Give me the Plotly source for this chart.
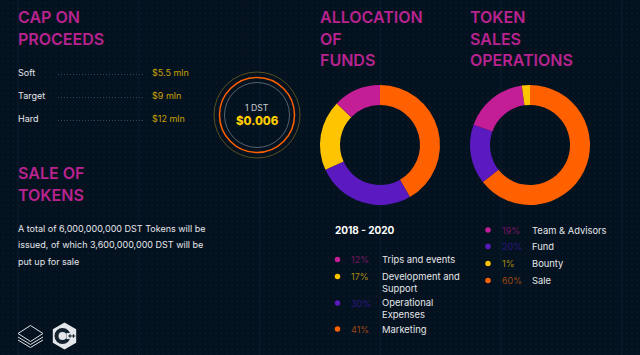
import numpy as np
import plotly.graph_objects as go

BG = "#04121f"
MAGENTA = "#c41e96"
PURPLE = "#5b19c0"
YELLOW = "#ffc400"
ORANGE = "#ff6000"
WHITE = "#e4e6ea"
HEAD = "#b8238f"
FONT = "Inter, Liberation Sans, sans-serif"

funds_labels = ["Marketing", "Operational Expenses", "Development and Support", "Trips and events"]
funds_values = [41.7, 26.5, 19.0, 12.8]
funds_colors = [ORANGE, PURPLE, YELLOW, MAGENTA]

sales_labels = ["Sale", "Fund", "Team & Advisors", "Bounty"]
sales_values = [64.4, 16.1, 17.3, 2.2]
sales_colors = [ORANGE, PURPLE, MAGENTA, YELLOW]

cap_names = ["Soft", "Target", "Hard"]
cap_amounts = ["$5.5 mln", "$9 mln", "$12 mln"]

funds_legend_pct = ["12%", "17%", "30%", "41%"]
funds_legend_txt = ["Trips and events", "Development and<br>Support", "Operational<br>Expenses", "Marketing"]
funds_legend_col = [MAGENTA, YELLOW, PURPLE, ORANGE]
funds_legend_dim = ["#751665", "#a98a12", "#2f1583", "#9c4712"]

sales_legend_pct = ["19%", "20%", "1%", "60%"]
sales_legend_txt = ["Team & Advisors", "Fund", "Bounty", "Sale"]
sales_legend_col = [MAGENTA, PURPLE, YELLOW, ORANGE]
sales_legend_dim = ["#751665", "#2f1583", "#a98a12", "#9c4712"]

W, H = 640, 355
fig = go.Figure()

shapes = []
# faint vertical guide lines and dotted background
for vx in [18, 139, 260, 380, 501, 622]:
    shapes.append(dict(type="line", xref="x", yref="y", x0=vx, x1=vx, y0=0, y1=H, layer="below",
                       line=dict(color="#0a1c2d", width=1)))
gx, gy = np.meshgrid(np.arange(3, W, 5.33), np.arange(3, H, 5.33))
fig.add_trace(go.Scatter(x=gx.ravel(), y=gy.ravel(), mode="markers", hoverinfo="skip", showlegend=False,
                         marker=dict(size=1.3, color="#0e2337", line_width=0)))

def dom(cx, cy, r):
    return dict(x=[(cx - r) / W, (cx + r) / W], y=[1 - (cy + r) / H, 1 - (cy - r) / H])

for vals, labs, cols, cx in [(funds_values, funds_labels, funds_colors, 380),
                             (sales_values, sales_labels, sales_colors, 530)]:
    fig.add_trace(go.Pie(values=vals, labels=labs, marker=dict(colors=cols, line_width=0), hole=0.667,
                         sort=False, direction="clockwise", rotation=0, textinfo="none",
                         showlegend=False, hoverinfo="skip", domain=dom(cx, 145, 60)))

anns = []
def text(x, y, s, size, color, weight=400, anchor="left"):
    anns.append(dict(x=x, y=y, xref="x", yref="y", text=s, showarrow=False, xanchor=anchor, yanchor="middle",
                     align="left", borderpad=0, xshift=-1 if anchor == "left" else 0,
                     font=dict(family=FONT, size=size, color=color, weight=weight)))

for x, ys, lines in [(18, [17, 39], ["CAP ON", "PROCEEDS"]), (18, [173, 195], ["SALE OF", "TOKENS"]),
                     (319.5, [17, 39, 60], ["ALLOCATION", "OF", "FUNDS"]),
                     (470, [17, 39, 60], ["TOKEN", "SALES", "OPERATIONS"])]:
    for y, l in zip(ys, lines):
        text(x, y, l, 16, HEAD, 600)

for y, n, a in zip([72, 95, 118], cap_names, cap_amounts):
    text(18, y, n, 9, WHITE)
    text(152, y, a, 9, "#c9a006")
    shapes.append(dict(type="line", x0=58, x1=145, y0=y + 2.5, y1=y + 2.5, xref="x", yref="y",
                       line=dict(color="#33475a", width=1, dash="1px 2px")))

for y, s in zip([228, 244, 261], ["A total of 6,000,000,000 DST Tokens will be",
                                  "issued, of which 3,600,000,000 DST will be", "put up for sale"]):
    text(18, y, s, 9, WHITE)

for r, c, w in [(43, "#57501f", 1), (37.5, ORANGE, 1.5), (32.5, "#55626f", 1)]:
    shapes.append(dict(type="circle", xref="x", yref="y", x0=257 - r, x1=257 + r, y0=115 - r, y1=115 + r,
                       line=dict(color=c, width=w)))
text(257, 108, "1 DST", 8.7, "#c9ccd1", anchor="center")
text(257, 121, "$0.006", 11.5, "#ffcc00", 800, anchor="center")

text(335, 230, "2018 - 2020", 10, "#ffffff", 700)

def legend(dx, px, tx, ys, pcts, txts, cols, dims):
    xs = [dx] * len(ys)
    fig.add_trace(go.Scatter(x=xs, y=ys, mode="markers", hoverinfo="skip", showlegend=False,
                             marker=dict(size=5.5, color=cols, line_width=0)))
    for y, p, t, c in zip(ys, pcts, txts, dims):
        text(px, y, p, 9, c)
        off = 5.5 if "<br>" in t else 0
        text(tx, y + off, t, 9.4, WHITE)

legend(337.5, 351, 382, [259.5, 276.5, 303, 329], funds_legend_pct, funds_legend_txt, funds_legend_col, funds_legend_dim)
legend(488, 502, 532, [230, 246.5, 263.5, 280.5], sales_legend_pct, sales_legend_txt, sales_legend_col, sales_legend_dim)

# logos: stacked layers and C++ hexagon
LOGO = "#dfe1e5"
shapes.append(dict(type="path", xref="x", yref="y", path="M18,333.5 L30.5,325.5 L43,333.5 L30.5,341.5 Z",
                   line=dict(color=LOGO, width=1)))
shapes.append(dict(type="path", xref="x", yref="y", path="M18,337 L30.5,344.5 L43,337", line=dict(color=LOGO, width=1)))
shapes.append(dict(type="path", xref="x", yref="y", path="M18,340 L30.5,347.5 L43,340", line=dict(color=LOGO, width=1)))
fig.add_trace(go.Scatter(x=[64.5], y=[336], mode="markers", hoverinfo="skip", showlegend=False,
                         marker=dict(symbol="hexagon", size=27, color="#e4e6ea", line_width=0)))
fig.add_trace(go.Scatter(x=[62.5], y=[336], mode="markers", hoverinfo="skip", showlegend=False,
                         marker=dict(symbol="circle-open", size=12, color="#152330", line=dict(width=4, color="#152330"))))
fig.add_trace(go.Scatter(x=[69.5], y=[336], mode="markers", hoverinfo="skip", showlegend=False,
                         marker=dict(symbol="square", size=6, color="#e4e6ea", line_width=0)))
fig.add_trace(go.Scatter(x=[70, 73.5], y=[336, 336], mode="markers", hoverinfo="skip", showlegend=False,
                         marker=dict(symbol="cross", size=3, color="#152330", line_width=0)))

fig.update_layout(width=W, height=H, margin=dict(l=0, r=0, t=0, b=0), paper_bgcolor=BG, plot_bgcolor=BG,
                  xaxis=dict(range=[0, W], visible=False, fixedrange=True, domain=[0, 1]),
                  yaxis=dict(range=[H, 0], visible=False, fixedrange=True, domain=[0, 1]),
                  annotations=anns, shapes=shapes, showlegend=False)
fig.write_html("out.html", config=dict(displayModeBar=False),
               post_script="document.body.style.margin='0';document.body.style.background='%s';" % BG)
